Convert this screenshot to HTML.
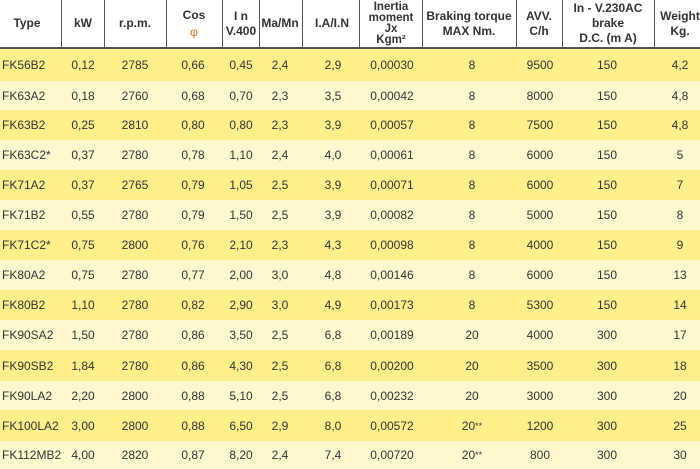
<!DOCTYPE html>
<html><head><meta charset="utf-8"><style>
body{margin:0;width:700px;height:469px;overflow:hidden;background:#fff;font-family:"Liberation Sans",sans-serif;position:relative;color:#333}
.r{position:absolute;left:0;width:700px}
.c{position:absolute;top:0;height:100%;display:flex;align-items:center;justify-content:center;font-size:12px;white-space:nowrap;transform:translateX(-50%)}
.h{position:absolute;top:0;height:47px;display:flex;align-items:center;justify-content:center;text-align:center;font-weight:bold;font-size:12px;line-height:13px;color:#333;transform:translateX(-50%);white-space:nowrap}
.v{position:absolute;top:0;height:47px;width:1px;background:#555}
</style></head><body>
<div class="r" style="top:0;height:47px;border-bottom:2px solid #555;box-sizing:content-box">
<div class="h" style="left:27px"><div>Type</div></div>
<div class="h" style="left:83px"><div>kW</div></div>
<div class="h" style="left:135px"><div>r.p.m.</div></div>
<div class="h" style="left:194px"><div style="line-height:17px">Cos<br><span style="font-weight:normal;color:#e07020">φ</span></div></div>
<div class="h" style="left:241px"><div style="line-height:15px">I n<br>V.400</div></div>
<div class="h" style="left:280px"><div>Ma/Mn</div></div>
<div class="h" style="left:332px"><div>I.A/I.N</div></div>
<div class="h" style="left:391px;font-size:11.5px"><div style="line-height:11px">Inertia<br>moment<br>Jx<br>Kgm²</div></div>
<div class="h" style="left:469px"><div style="line-height:15px">Braking torque<br>MAX Nm.</div></div>
<div class="h" style="left:539px"><div style="line-height:15px">AVV.<br>C/h</div></div>
<div class="h" style="left:608px"><div style="line-height:15px">In - V.230AC<br>brake<br>D.C. (m A)</div></div>
<div class="h" style="left:680px"><div style="line-height:15px">Weight<br>Kg.</div></div>
<div class="v" style="left:61px"></div><div class="v" style="left:104px"></div><div class="v" style="left:166px"></div><div class="v" style="left:222px"></div><div class="v" style="left:259px"></div><div class="v" style="left:302px"></div><div class="v" style="left:359px"></div><div class="v" style="left:422px"></div><div class="v" style="left:516px"></div><div class="v" style="left:562px"></div><div class="v" style="left:654px"></div>
</div>
<div id="rows"></div>
<script>
const d=[["FK56B2","0,12","2785","0,66","0,45","2,4","2,9","0,00030","8","9500","150","4,2"],
["FK63A2","0,18","2760","0,68","0,70","2,3","3,5","0,00042","8","8000","150","4,8"],
["FK63B2","0,25","2810","0,80","0,80","2,3","3,9","0,00057","8","7500","150","4,8"],
["FK63C2*","0,37","2780","0,78","1,10","2,4","4,0","0,00061","8","6000","150","5"],
["FK71A2","0,37","2765","0,79","1,05","2,5","3,9","0,00071","8","6000","150","7"],
["FK71B2","0,55","2780","0,79","1,50","2,5","3,9","0,00082","8","5000","150","8"],
["FK71C2*","0,75","2800","0,76","2,10","2,3","4,3","0,00098","8","4000","150","9"],
["FK80A2","0,75","2780","0,77","2,00","3,0","4,8","0,00146","8","6000","150","13"],
["FK80B2","1,10","2780","0,82","2,90","3,0","4,9","0,00173","8","5300","150","14"],
["FK90SA2","1,50","2780","0,86","3,50","2,5","6,8","0,00189","20","4000","300","17"],
["FK90SB2","1,84","2780","0,86","4,30","2,5","6,8","0,00200","20","3500","300","18"],
["FK90LA2","2,20","2800","0,88","5,10","2,5","6,8","0,00232","20","3000","300","20"],
["FK100LA2","3,00","2800","0,88","6,50","2,9","8,0","0,00572","20**","1200","300","25"],
["FK112MB2","4,00","2820","0,87","8,20","2,4","7,4","0,00720","20**","800","300","30"]];
const b=[49,81,110,140,170,200,230,260,290,320,350,381,410,441,469];
const x=[null,83,135,193,241,280,333,392,472,540,607,680];
let h="";
d.forEach((r,i)=>{h+=`<div class="r" style="top:${b[i]}px;height:${b[i+1]-b[i]}px;background:${i%2?'#fef8cf':'#fdf08a'}">`;
h+=`<div class="c" style="left:2px;transform:none">${r[0]}</div>`;
for(let j=1;j<12;j++){let t=r[j];if(j==8&&t.includes('*'))t='20<sup style="font-size:9px;vertical-align:4px">**</sup>';h+=`<div class="c" style="left:${x[j]}px">${t}</div>`;}
h+="</div>";});
document.getElementById("rows").innerHTML=h;
</script>
</body></html>
